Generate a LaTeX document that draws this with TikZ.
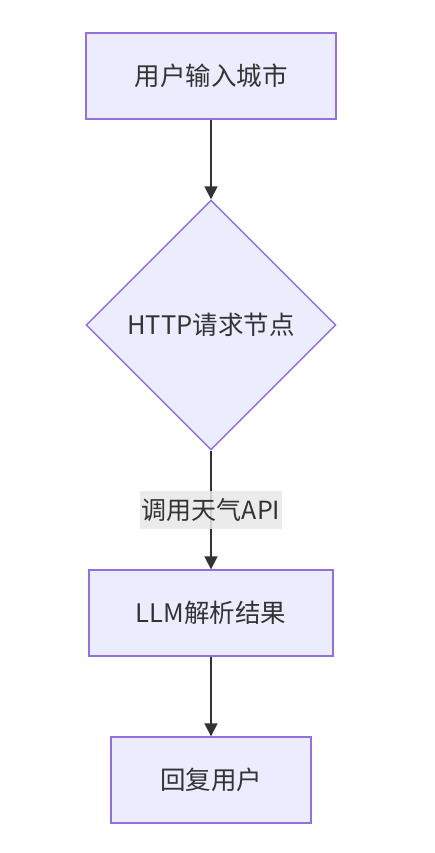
\documentclass[tikz,border=0pt]{standalone}
\usepackage{fontspec}
\setmainfont{Noto Sans CJK SC}
\usetikzlibrary{shapes.geometric,arrows.meta}
\definecolor{nodefill}{HTML}{ECECFF}
\definecolor{nodeborder}{HTML}{9370DB}
\definecolor{txt}{HTML}{333333}
\definecolor{lblbg}{HTML}{E8E8E8}
\begin{document}
\begin{tikzpicture}[x=1pt,y=-1pt,
  box/.style={draw=nodeborder,fill=nodefill,line width=1.4pt,text=txt,font=\fontsize{25.5}{30}\selectfont,inner sep=0pt},
  conn/.style={draw=txt,line width=1.8pt,-{Triangle[length=13pt,width=13pt]}},
  lbl/.style={fill=lblbg,fill opacity=0.85,text opacity=1,text=txt,font=\fontsize{25}{30}\selectfont,inner sep=1.5pt,minimum height=38pt}]
\useasboundingbox (0,0) rectangle (434,853);
\fill[white] (0,0) rectangle (434,853);
\node[box,minimum width=250pt,minimum height=86pt] (a) at (211,76) {用户输入城市};
\node[box,diamond,minimum width=250pt,minimum height=250pt,aspect=1] (b) at (211,325) {HTTP请求节点};
\node[box,minimum width=244pt,minimum height=86pt] (c) at (211,613) {LLM解析结果};
\node[box,minimum width=200pt,minimum height=86pt] (d) at (211,780) {回复用户};
\draw[conn] (a) -- (b);
\draw[conn] (b) -- (c) node[lbl,pos=0.5] (l) at (211,511) {调用天气API};
\draw[conn] (c) -- (d);
\end{tikzpicture}
\end{document}
